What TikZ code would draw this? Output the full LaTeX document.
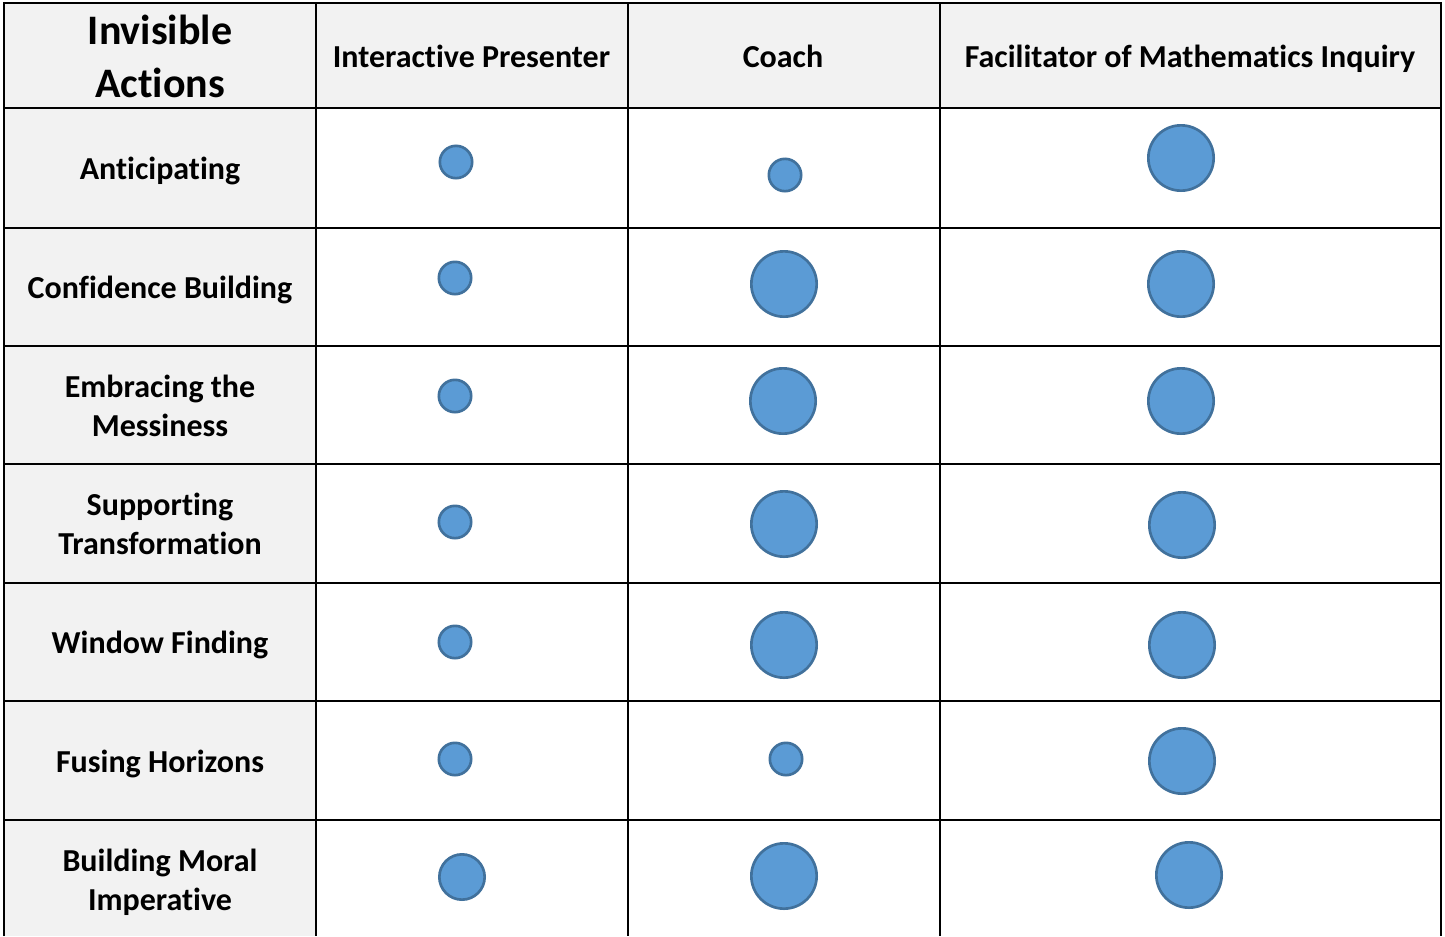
\documentclass[tikz,border=0pt]{standalone}
\usepackage{fontspec}
\setmainfont{Carlito}[Ligatures=CommonOff]
\usepackage{xcolor}
\definecolor{headgray}{RGB}{242,242,242}
\definecolor{dotfill}{RGB}{91,155,213}
\definecolor{dotedge}{RGB}{65,113,156}

\begin{document}
\begin{tikzpicture}[x=0.75pt,y=0.75pt,yscale=-1,xscale=1,
  gridline/.style={line width=2.2pt},
  celltext/.style={align=center,inner sep=0pt,font=\bfseries\fontsize{24}{29.25}\selectfont},
  bigtext/.style={align=center,inner sep=0pt,font=\bfseries\fontsize{31.5}{39.75}\selectfont},
  dot/.style={circle,draw=dotedge,fill=dotfill,line width=2pt,inner sep=0pt,minimum size=#1}]
\useasboundingbox (0,0) rectangle (1445,936);

%Shape: Rectangle [header row]
\fill [headgray] (4,3) rectangle (1441,108);
%Shape: Rectangle [first column]
\fill [headgray] (4,108) rectangle (316,936);

%Straight Lines [outer border]
\draw [gridline] (4,936) -- (4,3) -- (1441,3) -- (1441,936);
%Straight Lines [columns]
\draw [gridline] (316,3) -- (316,936);
\draw [gridline] (628,3) -- (628,936);
\draw [gridline] (940,3) -- (940,936);
%Straight Lines [rows]
\draw [gridline] (4,108) -- (1441,108);
\draw [gridline] (4,228) -- (1441,228);
\draw [gridline] (4,346) -- (1441,346);
\draw [gridline] (4,464) -- (1441,464);
\draw [gridline] (4,583) -- (1441,583);
\draw [gridline] (4,701) -- (1441,701);
\draw [gridline] (4,820) -- (1441,820);

% Text Node
\node [bigtext] (actions) at (160,60.5) {\strut Invisible\\\strut Actions};
% Text Node
\node [celltext] (presenter) at (471.5,60) {\strut Interactive Presenter};
% Text Node
\node [celltext] (coach) at (783,60) {\strut Coach};
% Text Node
\node [celltext] (facilitator) at (1190,60) {\strut Facilitator of Mathematics Inquiry};

% Text Node
\node [celltext] (anticip) at (160,171.5) {\strut Anticipating};
% Text Node
\node [celltext] (confid) at (160,290.5) {\strut Confidence Building};
% Text Node
\node [celltext] (embrace) at (160,409.5) {\strut Embracing the\\\strut Messiness};
% Text Node
\node [celltext] (support) at (160,527.5) {\strut Supporting\\\strut Transformation};
% Text Node
\node [celltext] (window) at (160,645.5) {\strut Window Finding};
% Text Node
\node [celltext] (fusing) at (160,764.5) {\strut Fusing Horizons};
% Text Node
\node [celltext] (moral) at (160,883.5) {\strut Building Moral\\\strut Imperative};

%Shape: Circle [Anticipating]
\node [dot=24.25pt] (anticipA) at (456,162) {};
\node [dot=24.25pt] (anticipB) at (785,175) {};
\node [dot=49pt] (anticipC) at (1181,158) {};
%Shape: Circle [Confidence Building]
\node [dot=24.25pt] (confidA) at (455,278) {};
\node [dot=49pt] (confidB) at (784,284) {};
\node [dot=49pt] (confidC) at (1181,284) {};
%Shape: Circle [Embracing the Messiness]
\node [dot=24.25pt] (embraceA) at (455,396) {};
\node [dot=49pt] (embraceB) at (783,401) {};
\node [dot=49pt] (embraceC) at (1181,401) {};
%Shape: Circle [Supporting Transformation]
\node [dot=24.25pt] (supportA) at (455,522) {};
\node [dot=49pt] (supportB) at (784,524) {};
\node [dot=49pt] (supportC) at (1182,525) {};
%Shape: Circle [Window Finding]
\node [dot=24.25pt] (windowA) at (455,642) {};
\node [dot=49pt] (windowB) at (784,645) {};
\node [dot=49pt] (windowC) at (1182,645) {};
%Shape: Circle [Fusing Horizons]
\node [dot=24.25pt] (fusingA) at (455,759) {};
\node [dot=24.25pt] (fusingB) at (786,759) {};
\node [dot=49pt] (fusingC) at (1182,761) {};
%Shape: Circle [Building Moral Imperative]
\node [dot=34pt] (moralA) at (462,877) {};
\node [dot=49pt] (moralB) at (784,876) {};
\node [dot=49pt] (moralC) at (1189,875) {};

\end{tikzpicture}
\end{document}
